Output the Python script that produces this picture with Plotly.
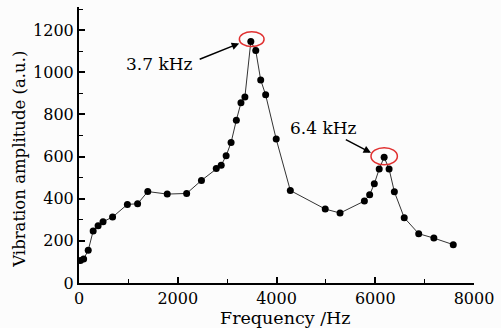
import plotly.graph_objects as go

freq = [28, 94, 187, 287, 387, 487, 680, 980, 1187, 1393, 1787, 2180, 2480, 2780, 2880,
        2980, 3080, 3187, 3280, 3360, 3480, 3580, 3680, 3780, 3994, 4280, 4987, 5287,
        5780, 5887, 5981, 6080, 6180, 6280, 6387, 6587, 6880, 7187, 7580]
amp = [107, 114, 155, 247, 272, 291, 313, 373, 376, 434, 422, 425, 487, 543, 559,
       604, 667, 773, 855, 883, 1146, 1103, 964, 893, 683, 439, 351, 332,
       389, 419, 471, 541, 597, 541, 433, 310, 234, 213, 182]

FONT = "DejaVu Serif"

fig = go.Figure()
fig.add_trace(go.Scatter(
    x=freq, y=amp, mode="lines+markers",
    line=dict(color="#333333", width=1),
    marker=dict(color="black", size=7),
    showlegend=False,
))

axis_common = dict(
    showgrid=False, zeroline=False, showline=True, linecolor="black", linewidth=2,
    ticks="inside", ticklen=6, tickwidth=1.5, tickcolor="black",
    tickfont=dict(family=FONT, size=16, color="black"),
    mirror=False,
)
fig.update_xaxes(range=[0, 8000], dtick=2000, tick0=0,
                 minor=dict(ticks="inside", ticklen=4, dtick=1000, tickcolor="black", tickwidth=1.2),
                 **axis_common)
fig.update_yaxes(range=[0, 1310], dtick=200, tick0=0,
                 minor=dict(ticks="inside", ticklen=4, dtick=100, tickcolor="black", tickwidth=1.2),
                 **axis_common)

# red ellipses
fig.add_shape(type="circle", xref="x", yref="y", x0=3248, x1=3748, y0=1122, y1=1193,
              line=dict(color="#e03030", width=1.5))
fig.add_shape(type="circle", xref="x", yref="y", x0=5914, x1=6448, y0=561, y1=642,
              line=dict(color="#e03030", width=1.5))

# arrows
fig.add_annotation(x=3244, y=1137, ax=2414, ay=1059, xref="x", yref="y", axref="x", ayref="y",
                   text="", showarrow=True, arrowhead=2, arrowsize=1, arrowwidth=1.5, arrowcolor="black")
fig.add_annotation(x=5914, y=618, ax=5374, ay=684, xref="x", yref="y", axref="x", ayref="y",
                   text="", showarrow=True, arrowhead=2, arrowsize=1, arrowwidth=1.5, arrowcolor="black")
fig.add_annotation(x=1634, y=1039, text="3.7 kHz", showarrow=False,
                   font=dict(family=FONT, size=17, color="black"))
fig.add_annotation(x=4944, y=736, text="6.4 kHz", showarrow=False,
                   font=dict(family=FONT, size=17, color="black"))

W, H = 501, 328
ML, MR, MT, MB = 79, 22, 7, 45
fig.update_layout(
    width=W, height=H,
    margin=dict(l=ML, r=MR, t=MT, b=MB),
    paper_bgcolor="#fcfcfc", plot_bgcolor="#fcfcfc",
)

# axis titles placed as annotations (paper coords computed from pixel targets)
pw, ph = W - ML - MR, H - MT - MB
def px_to_paper(px, py):
    return (px - ML) / pw, (H - MB - py) / ph

xt, yt = px_to_paper(288, 318)
fig.add_annotation(x=xt, y=yt, xref="paper", yref="paper", xanchor="center", yanchor="middle",
                   text="Frequency /Hz", showarrow=False,
                   font=dict(family=FONT, size=17.5, color="black"))
xt, yt = px_to_paper(18, 159)
fig.add_annotation(x=xt, y=yt, xref="paper", yref="paper", xanchor="center", yanchor="middle",
                   text="Vibration amplitude (a.u.)", textangle=-90, showarrow=False,
                   font=dict(family=FONT, size=16.5, color="black"))

fig.write_html("out.html")
